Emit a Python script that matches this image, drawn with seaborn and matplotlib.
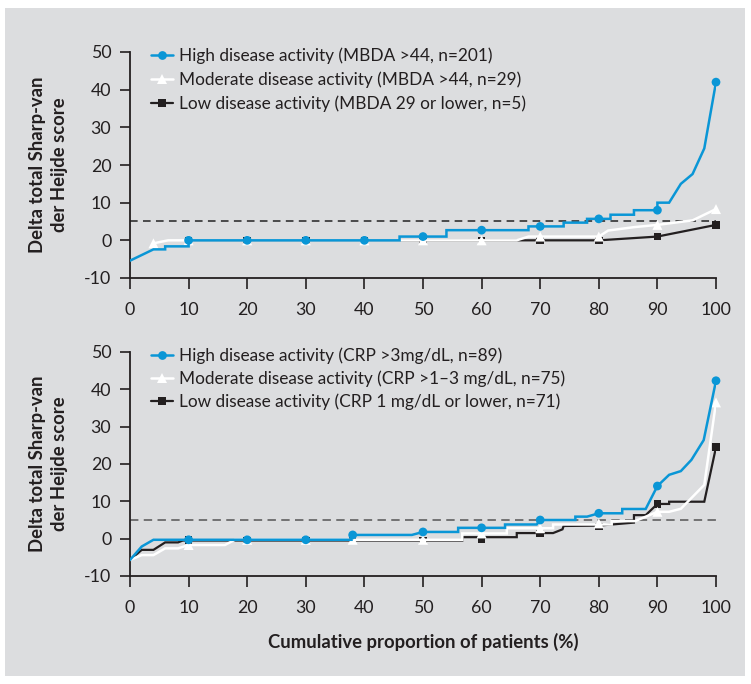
import matplotlib
matplotlib.use("Agg")
import matplotlib.pyplot as plt
import numpy as np
import pandas as pd
import seaborn as sns
from matplotlib.lines import Line2D
from matplotlib.patches import Rectangle

sns.set_theme(style="white")
plt.rcParams['font.family'] = ['Lato', 'DejaVu Sans']

# ---------------- data ----------------
xticks = [0, 10, 20, 30, 40, 50, 60, 70, 80, 90, 100]
yticks = [-10, 0, 10, 20, 30, 40, 50]
threshold = 5

top_labels = ["High disease activity (MBDA >44, n=201)",
              "Moderate disease activity (MBDA >44, n=29)",
              "Low disease activity (MBDA 29 or lower, n=5)"]
bot_labels = ["High disease activity (CRP >3mg/dL, n=89)",
              "Moderate disease activity (CRP >1\u20133 mg/dL, n=75)",
              "Low disease activity (CRP 1 mg/dL or lower, n=71)"]

# top panel curves
top_high_x = [0, 4, 6, 6, 10, 10, 46, 46, 54, 54, 68, 68, 74, 74, 78, 78, 82, 82, 86, 86, 90, 90, 92, 94, 96, 98, 100]
top_high_y = [-5.4, -2.4, -2.4, -1.6, -1.6, 0, 0, 1.0, 1.0, 2.7, 2.7, 3.7, 3.7, 4.7, 4.7, 5.7, 5.7, 6.8, 6.8, 8.0, 8.0, 10.0, 10.0, 15.0, 17.6, 24.4, 42.0]
top_mod_x = [4, 6.5, 66, 68, 80, 81.6, 86, 90, 96, 100]
top_mod_y = [-0.8, 0, 0, 1.0, 1.0, 2.6, 3.5, 4.1, 5.3, 8.3]
top_low_x = [10, 80, 90, 100]
top_low_y = [0, 0, 1.0, 4.1]

top_high_mx = [10, 20, 30, 40, 50, 60, 70, 80, 90, 100]
top_high_my = [0, 0, 0, 0, 1.0, 2.7, 3.7, 5.7, 8.0, 42.0]
top_mod_mx = [4, 10, 20, 30, 40, 50, 60, 70, 80, 90, 100]
top_mod_my = [-0.8, 0, 0, 0, 0, 0, 0, 1.0, 1.0, 4.1, 8.3]
top_low_mx = [10, 20, 30, 40, 50, 60, 70, 80, 90, 100]
top_low_my = [0, 0, 0, 0, 0, 0, 0, 0, 1.0, 4.1]

# bottom panel curves
bot_high_x = [0, 2, 4, 37.8, 37.8, 48.1, 50, 56, 56, 64, 64, 69.4, 70, 76, 76, 78, 80, 84, 84, 88, 90, 92, 94, 95.8, 97.9, 100]
bot_high_y = [-5.7, -2.1, -0.3, -0.3, 1.0, 1.0, 1.8, 1.8, 2.9, 2.9, 3.8, 3.8, 5.0, 5.0, 5.9, 5.9, 6.8, 6.8, 7.95, 7.95, 14.1, 17.1, 18.1, 21.1, 26.4, 42.3]
bot_mod_x = [0, 2, 4, 6, 8.2, 10, 16.2, 17.9, 56.7, 56.7, 64.3, 64.3, 72.2, 72.2, 82.2, 82.2, 86.2, 90, 92, 94, 98, 100]
bot_mod_y = [-5.7, -4.4, -4.4, -2.6, -2.6, -1.7, -1.7, -0.3, -0.3, 1.4, 1.4, 2.8, 2.8, 3.8, 3.8, 4.7, 4.7, 7.2, 7.2, 8.0, 14.4, 36.5]
bot_low_x = [0, 2, 4, 6, 8.2, 9, 48, 56.7, 56.7, 66, 66, 72.2, 73.8, 74, 80, 86, 86, 88, 90, 92, 92, 98, 100]
bot_low_y = [-5.7, -3.0, -3.0, -1.0, -1.0, -0.5, -0.5, -0.5, 0.4, 0.4, 1.5, 1.5, 2.5, 3.4, 3.5, 4.3, 6.3, 6.3, 9.3, 9.3, 9.9, 9.9, 24.5]

bot_high_mx = [10, 20, 30, 38, 50, 60, 70, 80, 90, 100]
bot_high_my = [-0.3, -0.3, -0.3, 1.0, 1.8, 2.9, 5.0, 6.8, 14.1, 42.3]
bot_mod_mx = [10, 20, 30, 38, 50, 60, 70, 80, 90, 100]
bot_mod_my = [-1.7, -0.3, -0.3, -0.3, -0.3, 1.4, 2.8, 4.1, 7.2, 36.5]
bot_low_mx = [10, 20, 30, 38, 50, 60, 70, 80, 90, 100]
bot_low_my = [-0.3, -0.5, -0.5, -0.5, -0.5, -0.2, 1.4, 3.3, 9.3, 24.5]

# ---------------- style ----------------
BLUE = "#0a96d6"
WHITE = "#ffffff"
BLACK = "#231f20"
PANEL = "#dcdddf"
W, H = 751, 684
FS = 12.4

fig = plt.figure(figsize=(W / 100, H / 100), dpi=100)
fig.patch.set_facecolor("white")
fig.patches.append(Rectangle((5 / W, 8 / H), 740 / W, 668 / H, transform=fig.transFigure,
                             facecolor=PANEL, edgecolor="none", zorder=-5))

ax_top = fig.add_axes([130 / W, 1 - 278 / H, 586 / W, 226 / H])
ax_bot = fig.add_axes([130 / W, 1 - 576 / H, 586 / W, 224 / H])

styles = [
    # color, marker, markersize(pt), lw, zorder
    (BLUE, "o", 6.3, 1.8, 6),
    (WHITE, "^", 7.2, 1.8, 5),
    (BLACK, "s", 5.4, 1.6, 4),
]


def draw_panel(ax, curves, marks, labels, dash_color, dashes, legend_y, labelspacing):
    ax.set_facecolor("none")
    ax.axhline(threshold, color=dash_color, lw=1.1, dashes=dashes, zorder=2)
    for (cx, cy), (mx, my), (col, mk, ms, lw, z) in zip(curves, marks, styles):
        sns.lineplot(x=cx, y=cy, sort=False, estimator=None, ax=ax, color=col,
                     lw=lw, zorder=z, solid_joinstyle="miter")
        sns.scatterplot(x=mx, y=my, ax=ax, marker=mk, s=ms ** 2, color=col,
                        edgecolor="none", linewidth=0, zorder=z + 0.5, clip_on=False)
    ax.set_xlim(0, 100)
    ax.set_ylim(-10, 50)
    ax.set_xticks(xticks)
    ax.set_yticks(yticks)
    ax.set_xticklabels([str(v) for v in xticks])
    ax.set_yticklabels([str(v) for v in yticks])
    for s in ["top", "right"]:
        ax.spines[s].set_visible(False)
    for s in ["left", "bottom"]:
        ax.spines[s].set_color(BLACK)
        ax.spines[s].set_linewidth(1.3)
    ax.tick_params(axis="y", direction="out", length=7.5, width=1.2, pad=6.0,
                   colors=BLACK, labelsize=12.8, left=True)
    ax.tick_params(axis="x", direction="out", length=8, width=1.2, pad=9.0,
                   colors=BLACK, labelsize=12.8, bottom=True)
    ax.set_xlabel("")
    ax.set_ylabel("")
    handles = [Line2D([], [], color=col, lw=lw, marker=mk, markersize=ms,
                      markeredgewidth=0)
               for (col, mk, ms, lw, z) in styles]
    leg = ax.legend(handles, labels, loc="upper left", bbox_to_anchor=(0.036, legend_y),
                    frameon=False, fontsize=FS, handlelength=1.3, handletextpad=0.3,
                    borderpad=0, borderaxespad=0, labelspacing=labelspacing)
    for t in leg.get_texts():
        t.set_color(BLACK)


draw_panel(ax_top,
           [(top_high_x, top_high_y), (top_mod_x, top_mod_y), (top_low_x, top_low_y)],
           [(top_high_mx, top_high_my), (top_mod_mx, top_mod_my), (top_low_mx, top_low_my)],
           top_labels, "#222222", (5, 3.5), 1.022, 0.45)
draw_panel(ax_bot,
           [(bot_high_x, bot_high_y), (bot_mod_x, bot_mod_y), (bot_low_x, bot_low_y)],
           [(bot_high_mx, bot_high_my), (bot_mod_mx, bot_mod_my), (bot_low_mx, bot_low_my)],
           bot_labels, "#555555", (5.5, 3.5), 1.022, 0.39)

ylab = "Delta total Sharp-van\nder Heijde score"
for ax in (ax_top, ax_bot):
    pos = ax.get_position()
    fig.text(48.5 / W, pos.y0 + pos.height / 2, ylab, rotation=90, ha="center", va="center",
             fontsize=13.3, fontweight="bold", color=BLACK, linespacing=1.4)

fig.text(423 / W, 1 - 642 / H, "Cumulative proportion of patients (%)", ha="center",
         va="center", fontsize=13.3, fontweight="bold", color=BLACK)

fig.savefig("out.png", dpi=100, facecolor=fig.get_facecolor())
